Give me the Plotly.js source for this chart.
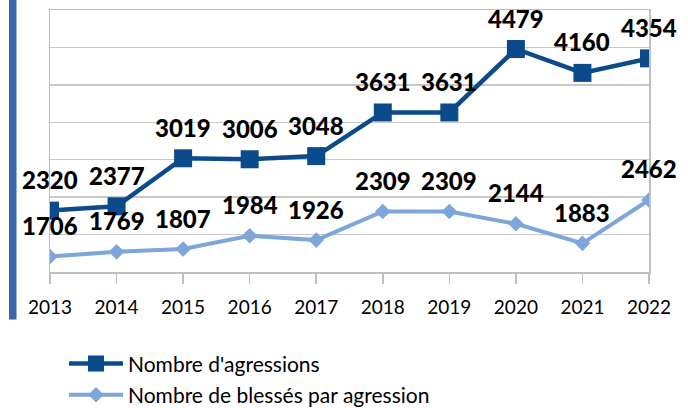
<!DOCTYPE html>
<html>
<head>
<meta charset="utf-8">
<script src="https://cdn.plot.ly/plotly-3.0.1.min.js"></script>
<style>html,body{margin:0;padding:0;background:#fff}#chart{width:688px;height:408px}</style>
</head>
<body>
<div id="chart"></div>
<script>
const years = [2013, 2014, 2015, 2016, 2017, 2018, 2019, 2020, 2021, 2022];
const agressions = [2320, 2377, 3019, 3006, 3048, 3631, 3631, 4479, 4160, 4354];
const blesses = [1706, 1769, 1807, 1984, 1926, 2309, 2309, 2144, 1883, 2462];
const seriesNames = ["Nombre d'agressions", "Nombre de blessés par agression"];

const darkBlue = '#0B4A8B';
const lightBlue = '#7EA6DA';

const traces = [
  {
    x: years, y: agressions, name: seriesNames[0], type: 'scatter', mode: 'lines+markers',
    legendgroup: 'a',
    line: {color: darkBlue, width: 4.5},
    marker: {symbol: 'square', size: 18, color: darkBlue}
  },
  {
    x: years, y: blesses, name: seriesNames[1], type: 'scatter', mode: 'lines+markers',
    legendgroup: 'b',
    line: {color: lightBlue, width: 4},
    marker: {symbol: 'diamond', size: 12, color: lightBlue}
  }
];

const annotations = [];
[agressions, blesses].forEach(arr => {
  arr.forEach((v, i) => {
    annotations.push({
      x: years[i], y: v, xref: 'x', yref: 'y', text: String(v), showarrow: false,
      yshift: 31, yanchor: 'middle', xanchor: 'center',
      font: {family: 'Lato', size: 24, color: '#000', weight: 900}
    });
  });
});

const layout = {
  width: 688, height: 408,
  margin: {l: 50, r: 39, t: 10, b: 135.5, autoexpand: false},
  paper_bgcolor: '#fff', plot_bgcolor: '#fff',
  showlegend: true,
  legend: {
    x: (64 - 50) / 599, y: (272.5 - 344) / 262.5, xanchor: 'left', yanchor: 'top', orientation: 'v',
    font: {family: 'Lato', size: 21, color: '#000'},
    itemwidth: 54, tracegroupgap: 1, bgcolor: 'rgba(0,0,0,0)'
  },
  xaxis: {
    range: [2013, 2022], tickvals: years, ticktext: years.map(String),
    showgrid: false, zeroline: false,
    showline: true, linecolor: '#BFBFBF', linewidth: 1.5, mirror: true,
    ticks: 'outside', ticklen: 10, tickcolor: '#BFBFBF', tickwidth: 1.5,
    ticklabelstandoff: 8, tickangle: 0, automargin: false,
    tickfont: {family: 'Lato', size: 19, color: '#000'}
  },
  yaxis: {
    range: [1500, 5000], dtick: 500, tick0: 1500,
    showgrid: true, gridcolor: '#C8C8C8', gridwidth: 1.5, zeroline: false,
    showline: true, linecolor: '#BFBFBF', linewidth: 1.5, mirror: true,
    showticklabels: false, ticks: '', automargin: false
  },
  shapes: [{
    type: 'rect', xref: 'paper', yref: 'paper',
    x0: (9 - 50) / 599, x1: (16.5 - 50) / 599,
    y0: (272.5 - 320) / 262.5, y1: (272.5 + 2) / 262.5,
    fillcolor: '#3C66A8', line: {width: 0}, layer: 'above'
  }],
  annotations: annotations
};

Plotly.newPlot('chart', traces, layout, {displayModeBar: false, staticPlot: true});
</script>
</body>
</html>
